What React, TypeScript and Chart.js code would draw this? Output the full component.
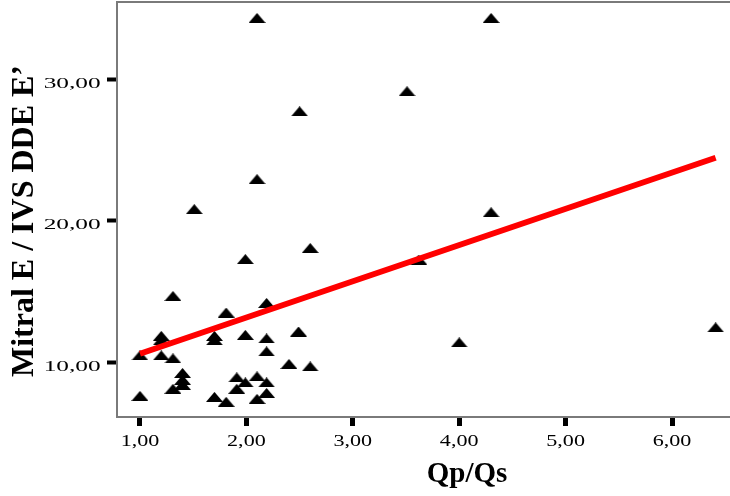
import React, { useEffect, useRef } from "react";
import { Chart, registerables } from "chart.js";

Chart.register(...registerables);

// Qp/Qs (x) and Mitral E / IVS DDE E' (y) per patient
const qpqs = [
  2.10, 4.30, 2.50, 3.51, 2.10, 1.51, 4.30, 2.60, 1.99, 3.62,
  1.31, 2.19, 1.81, 2.49, 1.99, 1.20, 1.20, 1.70, 1.70, 2.19,
  2.19, 1.00, 1.20, 1.31, 2.40, 2.60, 1.40, 1.40, 1.40, 1.31,
  1.91, 2.10, 1.99, 2.19, 1.91, 2.19, 2.10, 1.70, 1.81, 1.00,
  4.00, 6.41,
];
const mitral = [
  34.33, 34.33, 27.73, 29.15, 22.94, 20.82, 20.60, 18.07, 17.29, 17.25,
  14.68, 14.19, 13.51, 12.17, 11.93, 11.86, 11.55, 11.86, 11.55, 11.68,
  10.76, 10.48, 10.48, 10.27, 9.88, 9.70, 9.24, 8.75, 8.40, 8.12,
  8.93, 9.00, 8.57, 8.57, 8.12, 7.83, 7.41, 7.55, 7.20, 7.62,
  11.40, 12.46,
];
// linear fit line end points
const fitX = [1.0, 6.41];
const fitY = [10.6, 24.45];

const xTicks = [1, 2, 3, 4, 5, 6];
const yTicks = [10, 20, 30];
const xRange = [0.784, 6.545];
const yRange = [6.13, 35.46];

const xTitle = "Qp/Qs";
const yTitle = "Mitral E / IVS DDE E\u2019";

const fmt = (v: number) => v.toFixed(2).replace(".", ",");

function makeTriangle(): HTMLCanvasElement {
  const c = document.createElement("canvas");
  c.width = 17;
  c.height = 10;
  const g = c.getContext("2d")!;
  g.fillStyle = "#000";
  g.beginPath();
  g.moveTo(0, 10);
  g.lineTo(8.5, 0);
  g.lineTo(17, 10);
  g.closePath();
  g.fill();
  return c;
}

export default function App() {
  const ref = useRef<HTMLCanvasElement | null>(null);

  useEffect(() => {
    document.body.style.margin = "0";
    document.body.style.overflow = "hidden";
    const canvas = ref.current!;
    const tri = makeTriangle();

    const framePlugin = {
      id: "frame",
      beforeDatasetsDraw(chart: any) {
        const { ctx, chartArea: a } = chart;
        ctx.save();
        ctx.fillStyle = "#7a7a7a";
        // top, left and bottom edges of the plot frame (open on the right)
        ctx.fillRect(a.left - 1, a.top - 1, a.right - a.left + 1, 2);
        ctx.fillRect(a.left - 1, a.top - 1, 2, a.bottom - a.top + 2);
        ctx.fillRect(a.left - 1, a.bottom - 1, a.right - a.left + 1, 2);
        ctx.restore();
      },
    };

    const labelPlugin = {
      id: "labels",
      afterDraw(chart: any) {
        const { ctx, chartArea: a, scales } = chart;
        ctx.save();
        ctx.fillStyle = "#000";
        ctx.textBaseline = "alphabetic";
        ctx.font = '15px "Liberation Serif"';
        ctx.textAlign = "right";
        for (const v of yTicks) {
          const py = scales.y.getPixelForValue(v);
          ctx.save();
          ctx.translate(a.left - 16.3, py + 8.5);
          ctx.scale(1.69, 1);
          ctx.fillText(fmt(v), 0, 0);
          ctx.restore();
        }
        ctx.font = '17px "Liberation Serif"';
        ctx.textAlign = "center";
        for (const v of xTicks) {
          const px = scales.x.getPixelForValue(v);
          ctx.save();
          ctx.translate(px, a.bottom + 29);
          ctx.scale(1.3, 1);
          ctx.fillText(fmt(v), 0, 0);
          ctx.restore();
        }
        ctx.font = 'bold 29px "Liberation Serif"';
        ctx.textAlign = "center";
        ctx.fillText(xTitle, 467, 482);
        ctx.save();
        ctx.font = 'bold 32px "Liberation Serif"';
        ctx.translate(33, 221);
        ctx.rotate(-Math.PI / 2);
        ctx.fillText(yTitle, 0, 0);
        ctx.restore();
        ctx.restore();
      },
    };

    const chart = new Chart(canvas, {
      type: "scatter",
      data: {
        datasets: [
          {
            type: "line",
            data: fitX.map((x, i) => ({ x, y: fitY[i] })),
            borderColor: "#ff0000",
            borderWidth: 6,
            pointRadius: 0,
            fill: false,
            order: 0,
          } as any,
          {
            data: qpqs.map((x, i) => ({ x, y: mitral[i] })),
            pointStyle: tri as any,
            pointRadius: 8,
            backgroundColor: "#000",
            borderColor: "#000",
            order: 1,
          },
        ],
      },
      options: {
        responsive: false,
        animation: false,
        devicePixelRatio: 1,
        layout: { autoPadding: false, padding: { top: 2, right: 0, bottom: 0, left: 0 } },
        plugins: { legend: { display: false }, tooltip: { enabled: false } },
        scales: {
          x: {
            type: "linear",
            min: xRange[0],
            max: xRange[1],
            afterBuildTicks: (s: any) => {
              s.ticks = xTicks.map((v) => ({ value: v }));
            },
            afterFit: (s: any) => {
              s.height = 79;
            },
            border: { display: false },
            grid: {
              drawOnChartArea: false,
              drawTicks: true,
              tickLength: 9,
              tickWidth: 5,
              tickColor: "#000",
            },
            ticks: { display: false },
          },
          y: {
            type: "linear",
            min: yRange[0],
            max: yRange[1],
            afterBuildTicks: (s: any) => {
              s.ticks = yTicks.map((v) => ({ value: v }));
            },
            afterFit: (s: any) => {
              s.width = 117;
            },
            border: { display: false },
            grid: {
              drawOnChartArea: false,
              drawTicks: true,
              tickLength: 10,
              tickWidth: 4,
              tickColor: "#000",
            },
            ticks: { display: false },
          },
        },
      },
      plugins: [framePlugin, labelPlugin],
    });
    return () => chart.destroy();
  }, []);

  return (
    <div
      style={{
        position: "fixed",
        left: 0,
        top: 0,
        width: 730,
        height: 496,
        overflow: "hidden",
        background: "#fff",
      }}
    >
      <canvas ref={ref} width={730} height={496} style={{ display: "block" }} />
    </div>
  );
}
